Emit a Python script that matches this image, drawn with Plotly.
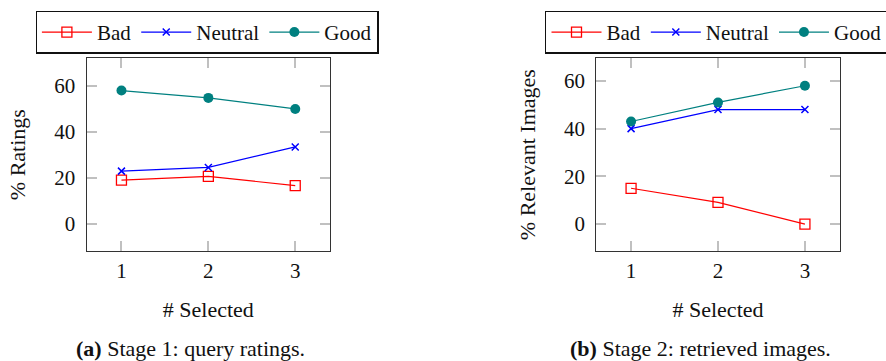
import plotly.graph_objects as go

x_vals = [1, 2, 3]
x_tick_labels = ["1", "2", "3"]
y_tick_vals = [0, 20, 40, 60]

stage1_bad = [19.1, 20.7, 16.7]
stage1_neutral = [23.0, 24.6, 33.5]
stage1_good = [58.0, 54.8, 50.0]

stage2_bad = [15.0, 9.1, 0.0]
stage2_neutral = [40.0, 48.0, 48.0]
stage2_good = [43.0, 51.0, 58.0]

series_names = ["Bad", "Neutral", "Good"]
colors = {"Bad": "rgb(255,0,0)", "Neutral": "rgb(0,0,255)", "Good": "rgb(0,128,128)"}
markers = {
    "Bad": dict(symbol="square-open", size=10, line=dict(width=1.3)),
    "Neutral": dict(symbol="x-thin-open", size=7, line=dict(width=1.5)),
    "Good": dict(symbol="circle", size=10),
}

FONT = "Liberation Serif, DejaVu Serif, serif"

fig = go.Figure()

panels = [
    ("x", "y", "legend", [stage1_bad, stage1_neutral, stage1_good]),
    ("x2", "y2", "legend2", [stage2_bad, stage2_neutral, stage2_good]),
]
for xa, ya, lg, data in panels:
    for name, vals in zip(series_names, data):
        m = dict(markers[name])
        m["color"] = colors[name]
        if "line" in m:
            m["line"] = dict(m["line"], color=colors[name])
        fig.add_trace(go.Scatter(
            x=x_vals, y=vals, name=name, mode="lines+markers",
            line=dict(color=colors[name], width=1.2),
            marker=m, xaxis=xa, yaxis=ya, legend=lg,
        ))

axis_common = dict(
    showline=True, linecolor="#333333", linewidth=1.3, mirror="allticks",
    ticks="inside", ticklen=10, tickwidth=1.5, tickcolor="#c0c0c0",
    showgrid=False, zeroline=False, automargin=False,
    tickfont=dict(family=FONT, size=21, color="#111111"),
)

ydom = [1 - 251 / 361, 1 - 58.3 / 361]
TF = dict(family=FONT, size=22, color="#111111")
LF = dict(family=FONT, size=21, color="#111111")
CF = dict(family=FONT, size=22, color="#111111")

fig.update_layout(
    width=886, height=361,
    margin=dict(l=0, r=0, t=0, b=0, autoexpand=False),
    paper_bgcolor="white", plot_bgcolor="white",
    font=dict(family=FONT, size=22, color="#111111"),
    showlegend=True,
    xaxis=dict(axis_common, domain=[86.7 / 886, 330 / 886], range=[0.6, 3.4],
               tickvals=x_vals, ticktext=x_tick_labels, anchor="y",
               ticklabelstandoff=1,
               title=dict(text="# Selected", standoff=19, font=TF)),
    yaxis=dict(axis_common, domain=ydom, range=[-11.7, 72], tickvals=y_tick_vals,
               anchor="x", ticklabelstandoff=6,
               title=dict(text="% Ratings", standoff=22, font=TF)),
    xaxis2=dict(axis_common, domain=[596.3 / 886, 839.7 / 886], range=[0.6, 3.4],
                tickvals=x_vals, ticktext=x_tick_labels, anchor="y2",
                ticklabelstandoff=1,
                title=dict(text="# Selected", standoff=19, font=TF)),
    yaxis2=dict(axis_common, domain=ydom, range=[-11.3, 69.5], tickvals=y_tick_vals,
                anchor="x2", ticklabelstandoff=6,
                title=dict(text="% Relevant Images", standoff=22, font=TF)),
    legend=dict(orientation="h", x=35.7 / 886, xanchor="left", y=1 - 10.7 / 361, yanchor="top",
                bordercolor="#111111", borderwidth=1.2, bgcolor="white",
                font=LF, itemwidth=50, tracegroupgap=0),
    legend2=dict(orientation="h", x=545.3 / 886, xanchor="left", y=1 - 10.7 / 361, yanchor="top",
                 bordercolor="#111111", borderwidth=1.2, bgcolor="white",
                 font=LF, itemwidth=50, tracegroupgap=0),
    annotations=[
        dict(text="<b>(a)</b> Stage 1: query ratings.", x=(58 + 323) / 2 / 886, y=1 - 348 / 361,
             xref="paper", yref="paper", showarrow=False, xanchor="center", yanchor="middle",
             font=CF),
        dict(text="<b>(b)</b> Stage 2: retrieved images.", x=(443 + 110 + 443 + 405) / 2 / 886, y=1 - 348 / 361,
             xref="paper", yref="paper", showarrow=False, xanchor="center", yanchor="middle",
             font=CF),
    ],
)

fig.write_html(
    "out.html",
    config={"displayModeBar": False},
    post_script="document.body.style.margin='0';document.body.style.overflow='hidden';",
)
